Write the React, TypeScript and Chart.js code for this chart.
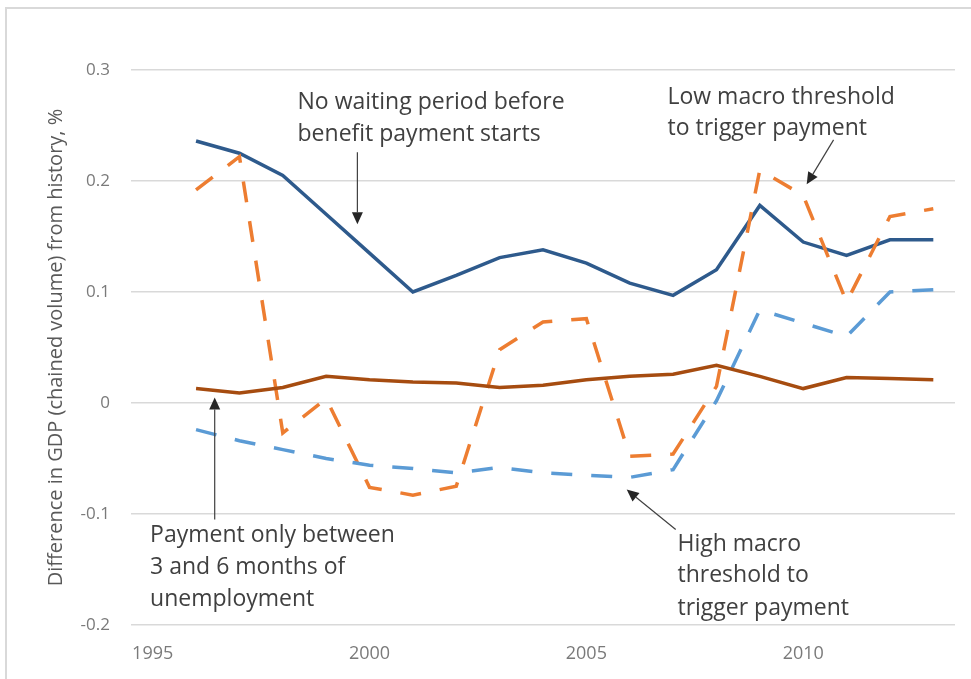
import React, { useEffect, useRef } from "react";
import { Chart, registerables } from "chart.js";

Chart.register(...registerables);

// ---- data ----
const years = [1996, 1997, 1998, 1999, 2000, 2001, 2002, 2003, 2004, 2005, 2006, 2007, 2008, 2009, 2010, 2011, 2012, 2013];
const noWaiting = [0.236, 0.225, 0.205, 0.17, 0.135, 0.1, 0.115, 0.131, 0.138, 0.126, 0.108, 0.097, 0.12, 0.178, 0.145, 0.133, 0.147, 0.147];
const lowMacro = [0.192, 0.222, -0.027, 0.004, -0.076, -0.083, -0.075, 0.048, 0.073, 0.076, -0.048, -0.046, 0.015, 0.21, 0.187, 0.091, 0.168, 0.175];
const highMacro = [-0.024, -0.034, -0.042, -0.05, -0.056, -0.059, -0.063, -0.058, -0.063, -0.065, -0.067, -0.06, 0.002, 0.084, 0.072, 0.06, 0.1, 0.102];
const between3and6 = [0.013, 0.009, 0.014, 0.024, 0.021, 0.019, 0.018, 0.014, 0.016, 0.021, 0.024, 0.026, 0.034, 0.024, 0.013, 0.023, 0.022, 0.021];
const xTicks = [1995, 2000, 2005, 2010];
const yTitle = "Difference in GDP (chained volume) from history, %";

// annotations in data coordinates
const annotations = [
  { lines: ["No waiting period before", "benefit payment starts"], x: 1998.34, y: [0.271, 0.242], from: [1999.72, 0.226], to: [1999.72, 0.161] },
  { lines: ["Low macro threshold", "to trigger payment"], x: 2006.87, y: [0.275, 0.247], from: [2010.7, 0.237], to: [2010.08, 0.197] },
  { lines: ["Payment only between", "3 and 6 months of", "unemployment"], x: 1994.94, y: [-0.119, -0.148, -0.177], from: [1996.43, -0.105], to: [1996.43, 0.005] },
  { lines: ["High macro", "threshold to", "trigger payment"], x: 2007.1, y: [-0.127, -0.155, -0.185], from: [2007.06, -0.114], to: [2005.93, -0.078] },
];

const FONT = "'Open Sans', Lato, sans-serif";

const annotationPlugin = {
  id: "annots",
  afterDatasetsDraw(chart: any) {
    const { ctx, scales } = chart;
    const xs = scales.x;
    const ys = scales.y;
    ctx.save();
    ctx.fillStyle = "#404040";
    ctx.font = `23px ${FONT}`;
    ctx.textBaseline = "middle";
    ctx.textAlign = "left";
    for (const a of annotations) {
      a.lines.forEach((t, i) => {
        ctx.fillText(t, xs.getPixelForValue(a.x), ys.getPixelForValue(a.y[i]));
      });
      const x1 = xs.getPixelForValue(a.from[0]);
      const y1 = ys.getPixelForValue(a.from[1]);
      const x2 = xs.getPixelForValue(a.to[0]);
      const y2 = ys.getPixelForValue(a.to[1]);
      const ang = Math.atan2(y2 - y1, x2 - x1);
      const hl = 12;
      const hw = 5.5;
      const bx = x2 - hl * Math.cos(ang);
      const by = y2 - hl * Math.sin(ang);
      ctx.strokeStyle = "#404040";
      ctx.lineWidth = 1.2;
      ctx.beginPath();
      ctx.moveTo(x1, y1);
      ctx.lineTo(bx, by);
      ctx.stroke();
      ctx.beginPath();
      ctx.moveTo(x2, y2);
      ctx.lineTo(bx + hw * Math.sin(ang), by - hw * Math.cos(ang));
      ctx.lineTo(bx - hw * Math.sin(ang), by + hw * Math.cos(ang));
      ctx.closePath();
      ctx.fillStyle = "#262626";
      ctx.fill();
      ctx.fillStyle = "#404040";
    }
    ctx.restore();
  },
};

function pts(vals: number[]) {
  return years.map((y, i) => ({ x: y, y: vals[i] }));
}

const PAD_LEFT = 44;

export default function App() {
  const ref = useRef<HTMLCanvasElement>(null);
  useEffect(() => {
    if (!ref.current) return;
    const chart = new Chart(ref.current, {
      type: "line",
      data: {
        datasets: [
          { label: "Between 3 and 6 months", data: pts(between3and6), borderColor: "#A64C10", borderWidth: 3.5, pointRadius: 0, tension: 0 },
          { label: "High macro threshold", data: pts(highMacro), borderColor: "#5B9BD5", borderWidth: 3.5, borderDash: [21, 19], pointRadius: 0, tension: 0 },
          { label: "Low macro threshold", data: pts(lowMacro), borderColor: "#ED7D31", borderWidth: 3.5, borderDash: [21, 19], pointRadius: 0, tension: 0 },
          { label: "No waiting period", data: pts(noWaiting), borderColor: "#2E5A8C", borderWidth: 3.5, pointRadius: 0, tension: 0 },
        ],
      },
      options: {
        animation: false,
        responsive: false,
        maintainAspectRatio: false,
        layout: { padding: { left: PAD_LEFT, right: 16, top: 70, bottom: 0 } },
        plugins: { legend: { display: false }, tooltip: { enabled: false } },
        scales: {
          x: {
            type: "linear",
            min: 1994.5,
            max: 2013.5,
            afterBuildTicks: (s: any) => {
              s.ticks = xTicks.map((v) => ({ value: v }));
            },
            afterFit: (s: any) => {
              s.height = 54;
            },
            grid: { display: false, drawTicks: false },
            border: { display: false },
            ticks: {
              autoSkip: false,
              maxRotation: 0,
              padding: 18,
              color: "#7a7a7a",
              font: { family: FONT, size: 18 },
              callback: (v: any) => String(v),
            },
          },
          y: {
            min: -0.2,
            max: 0.3,
            afterFit: (s: any) => {
              s.width = 131 - PAD_LEFT;
            },
            grid: { color: "#d9d9d9", lineWidth: 1.5, drawTicks: false },
            border: { display: false },
            ticks: {
              stepSize: 0.1,
              padding: 21,
              color: "#7a7a7a",
              font: { family: FONT, size: 17 },
              callback: (v: any) => {
                const r = Math.round(Number(v) * 10) / 10;
                return r === 0 ? "0" : String(r);
              },
            },
            title: {
              display: true,
              text: yTitle,
              color: "#595959",
              font: { family: FONT, size: 20 },
              padding: { top: 0, bottom: 0 },
            },
          },
        },
      },
      plugins: [annotationPlugin],
    });
    return () => chart.destroy();
  }, []);
  return (
    <div style={{ position: "absolute", left: 0, top: 0, width: 971, height: 679, background: "#fff", overflow: "hidden" }}>
      <div style={{ position: "absolute", left: 5, top: 7, width: 980, height: 700, borderLeft: "2px solid #d9d9d9", borderTop: "2px solid #d9d9d9" }} />
      <canvas ref={ref} width={971} height={679} style={{ position: "absolute", left: 0, top: 0, width: 971, height: 679 }} />
    </div>
  );
}
